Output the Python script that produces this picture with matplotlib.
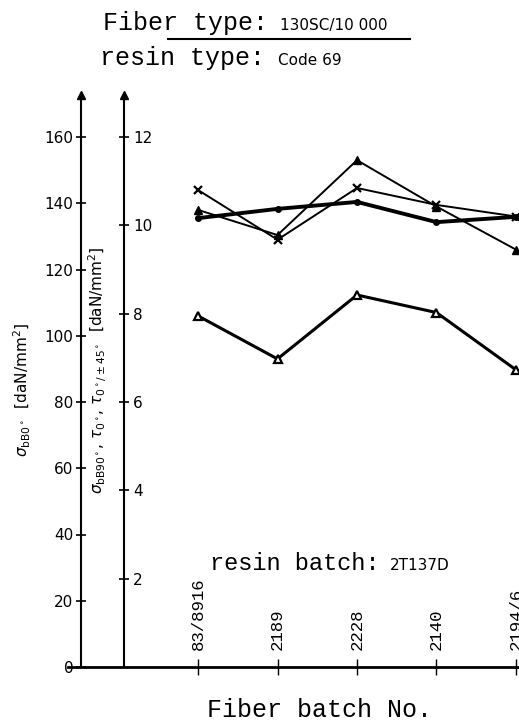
import numpy as np
import matplotlib.pyplot as plt
from matplotlib.lines import Line2D

# fiber batches along the x axis
batches = ['83/8916', '2189', '2228', '2140', '2194/6']

# values, in units of the left axis
tri_vals = [138.0, 130.4, 153.0, 139.0, 126.0]     # filled triangles
cross_vals = [144.0, 129.0, 144.6, 139.5, 136.0]   # crosses
dot_vals = [135.5, 138.3, 140.4, 134.3, 135.9]     # dots, thick line
open_vals = [106.0, 93.0, 112.3, 107.0, 89.7]      # open markers

left_ticks = [0, 20, 40, 60, 80, 100, 120, 140, 160]
right_ticks = [2, 4, 6, 8, 10, 12]

W, H = 519, 724
fig = plt.figure(figsize=(W / 100, H / 100), dpi=100)

# axes box in pixels: left axis x=81, bottom y=667, top y=95, right edge 519
ax_l, ax_r, ax_b, ax_t = 81, 519, 667, 95
ax = fig.add_axes([ax_l / W, 1 - ax_b / H, (ax_r - ax_l) / W, (ax_b - ax_t) / H])

px_per_unit = (667 - 137) / 160.0
ymax = (ax_b - ax_t) / px_per_unit
x0, dx = 198.0, 79.5
ax.set_xlim((ax_l - x0) / dx, (ax_r - x0) / dx)
ax.set_ylim(0, ymax)

xs = np.arange(len(batches))
ax.plot(xs, tri_vals, color='black', lw=1.4, marker='^', ms=6, clip_on=False)
ax.plot(xs, cross_vals, color='black', lw=1.4, marker='x', ms=6, mew=1.6, clip_on=False)
ax.plot(xs, dot_vals, color='black', lw=2.8, marker='o', ms=4, clip_on=False)
ax.plot(xs, open_vals, color='black', lw=2.2, marker='^', ms=6, mfc='white', mew=1.6, clip_on=False)

# spines
for s in ['top', 'right', 'bottom']:
    ax.spines[s].set_visible(False)
ax.spines['left'].set_linewidth(1.5)
ax.plot([-13 / (ax_r - ax_l), 1], [0, 0], color='black', lw=2.0,
        transform=ax.transAxes, clip_on=False)
ax.plot([0], [1], marker='^', ms=6, color='black', transform=ax.transAxes, clip_on=False)

tick_font = dict(family='DejaVu Sans', size=11)
ax.set_yticks(left_ticks)
ax.set_yticklabels([str(t) for t in left_ticks], **tick_font)
ax.tick_params(axis='y', direction='inout', length=7, width=1.2, pad=2)

ax.set_xticks(xs)
ax.set_xticklabels([])
ax.tick_params(axis='x', direction='inout', length=12, width=1.0)
for x, lab in zip(xs, batches):
    ax.annotate(lab, xy=(x, 0), xytext=(0, 12), textcoords='offset points',
                rotation=90, ha='center', va='bottom',
                family='Liberation Mono', fontsize=12.5, clip_on=False)

# second axis
ax2 = ax.twinx()
ax2.set_ylim(0, ymax * 12 / 160)
for s in ['top', 'left', 'bottom']:
    ax2.spines[s].set_visible(False)
ax2.spines['right'].set_position(('axes', (124 - ax_l) / (ax_r - ax_l)))
ax2.spines['right'].set_linewidth(1.5)
ax2.set_yticks(right_ticks)
ax2.set_yticklabels([str(t) for t in right_ticks], **tick_font)
ax2.tick_params(axis='y', direction='inout', length=7, width=1.2, pad=3)
ax2.plot([(124 - ax_l) / (ax_r - ax_l)], [1], marker='^', ms=6, color='black',
         transform=ax2.transAxes, clip_on=False)

# axis labels
fig.text(22 / W, 1 - 390 / H, r'$\sigma_{\rm bB0^\circ}$  [daN/mm$^2$]',
         rotation=90, ha='center', va='center', fontsize=11)
fig.text(98 / W, 1 - 370 / H,
         r'$\sigma_{\rm bB90^\circ}$, $\tau_{0^\circ}$, $\tau_{0^\circ/\pm45^\circ}$  [daN/mm$^2$]',
         rotation=90, ha='center', va='center', fontsize=11)

mono = 'Liberation Mono'
fig.text(103 / W, 1 - 30 / H, 'Fiber type:', family=mono, fontsize=18, va='baseline')
fig.text(280 / W, 1 - 30 / H, '130SC/10 000', fontsize=11, va='baseline')
fig.add_artist(Line2D([168 / W, 410 / W], [1 - 39 / H, 1 - 39 / H], color='black', lw=1.5))
fig.text(100 / W, 1 - 65 / H, 'resin type:', family=mono, fontsize=18, va='baseline')
fig.text(278 / W, 1 - 65 / H, 'Code 69', fontsize=11, va='baseline')

fig.text(210 / W, 1 - 570 / H, 'resin batch:', family=mono, fontsize=17, va='baseline')
fig.text(390 / W, 1 - 570 / H, '2T137D', fontsize=11, va='baseline')

fig.text(207 / W, 1 - 717 / H, 'Fiber batch No.', family=mono, fontsize=18, va='baseline')

fig.savefig('out.png', dpi=100)
